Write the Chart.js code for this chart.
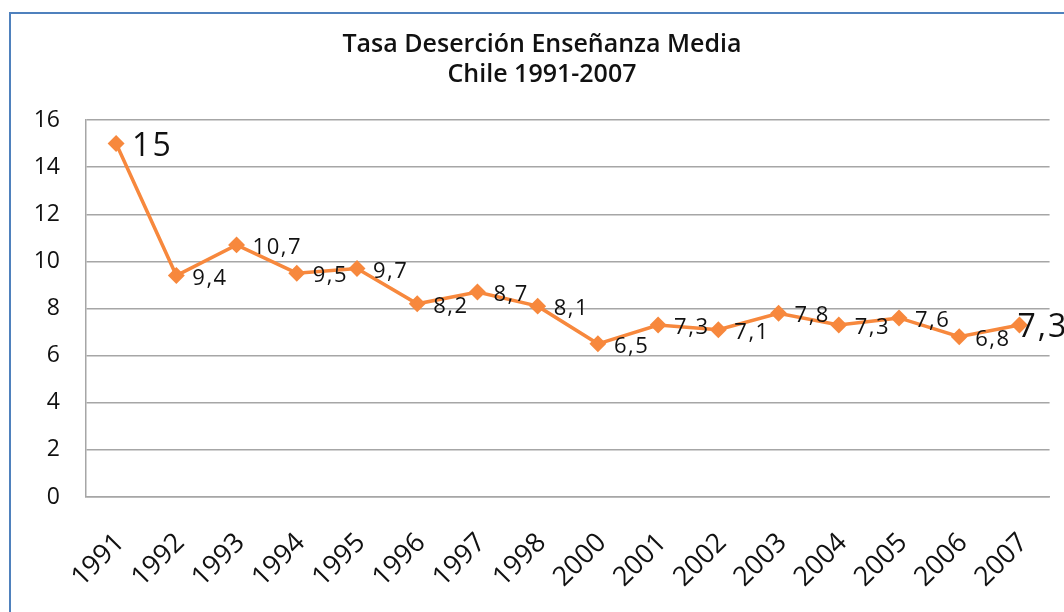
<!DOCTYPE html>
<html><head><meta charset="utf-8">
<script src="https://cdn.jsdelivr.net/npm/chart.js@4"></script>
<style>
html,body{margin:0;padding:0;background:#fff;overflow:hidden;width:1064px;height:612px;}
#frame{position:absolute;left:9px;top:12px;width:1100px;height:700px;border:2px solid #4F81BD;box-sizing:border-box;}
#wrap{position:absolute;left:11px;top:14px;width:1062px;height:598px;}
</style></head><body>
<div id="frame"></div>
<div id="wrap"><canvas id="c" width="1062" height="598"></canvas></div>
<script>
const titleLines = ['Tasa Deserción Enseñanza Media', 'Chile 1991-2007'];
const categories = ['1991','1992','1993','1994','1995','1996','1997','1998','2000','2001','2002','2003','2004','2005','2006','2007'];
const values = [15, 9.4, 10.7, 9.5, 9.7, 8.2, 8.7, 8.1, 6.5, 7.3, 7.1, 7.8, 7.3, 7.6, 6.8, 7.3];
const yMin = 0, yMax = 16, yStep = 2;

const FONT = '"Open Sans", "DejaVu Sans", sans-serif';
const ORANGE = '#F7883D';
const GRID = '#A6A6A6';

const labelPlugin = {
  id: 'pointLabels',
  afterDatasetsDraw(chart) {
    const ctx = chart.ctx;
    const meta = chart.getDatasetMeta(0);
    const n = meta.data.length;
    ctx.save();
    ctx.fillStyle = '#111';
    ctx.textBaseline = 'middle';
    ctx.textAlign = 'left';
    meta.data.forEach((pt, i) => {
      const big = (i === 0 || i === n - 1);
      ctx.font = (big ? '32px ' : '22px ') + FONT;
      ctx.letterSpacing = big ? '2px' : '1.5px';
      const txt = String(values[i]).replace('.', ',');
      const dx = (i === n - 1) ? -2 : 16;
      ctx.fillText(txt, pt.x + dx, pt.y + 3);
    });
    ctx.restore();
  }
};

new Chart(document.getElementById('c'), {
  type: 'line',
  data: {
    labels: categories,
    datasets: [{
      data: values,
      borderColor: ORANGE,
      backgroundColor: ORANGE,
      borderWidth: 3.5,
      pointStyle: 'rectRot',
      pointRadius: 6,
      pointHoverRadius: 6,
      pointBackgroundColor: ORANGE,
      pointBorderColor: ORANGE,
      tension: 0,
      fill: false
    }]
  },
  options: {
    responsive: false,
    animation: false,
    devicePixelRatio: 1,
    layout: { padding: { left: 20, right: 20, top: 0, bottom: 0 } },
    plugins: {
      legend: { display: false },
      tooltip: { enabled: false },
      title: {
        display: true,
        text: titleLines,
        color: '#111',
        font: { family: FONT, size: 25, weight: '600', lineHeight: 1.2 },
        padding: { top: 16, bottom: 30 }
      }
    },
    scales: {
      x: {
        offset: true,
        grid: { display: false, drawTicks: false },
        border: { display: true, color: GRID, width: 1.5 },
        ticks: {
          color: '#111',
          font: { family: FONT, size: 27 },
          minRotation: 45,
          maxRotation: 45,
          padding: 30,
          labelOffset: 4,
          autoSkip: false
        },
        afterFit(scale) { scale.height = 115; }
      },
      y: {
        min: yMin,
        max: yMax,
        ticks: {
          stepSize: yStep,
          color: '#111',
          font: { family: FONT, size: 23 },
          padding: 26
        },
        grid: { color: GRID, lineWidth: 1.5, drawTicks: false },
        border: { display: true, color: GRID, width: 1.5 },
        afterFit(scale) { scale.width = 55; }
      }
    }
  },
  plugins: [labelPlugin]
});
</script>
</body></html>
